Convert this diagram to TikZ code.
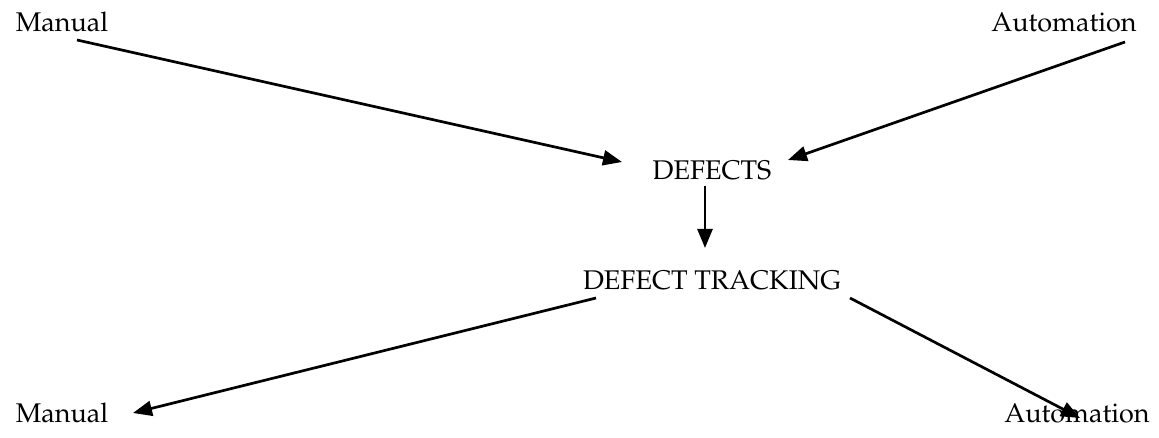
\documentclass[tikz,border=0pt]{standalone}
\usepackage[T1]{fontenc}
\usepackage{mathpazo}
\usetikzlibrary{arrows.meta}
\begin{document}
\begin{tikzpicture}[x=1pt,y=-1pt,
  lbl/.style={inner sep=0pt,font=\fontsize{27}{32}\selectfont},
  arr/.style={line width=2.7pt,-{Triangle[length=19pt,width=15pt]}}]
\useasboundingbox (0,0) rectangle (1159,438);
\node[lbl] (m1) at (62,22) {Manual};
\node[lbl] (a1) at (1064,22) {Automation};
\node[lbl] (d) at (712,170) {DEFECTS};
\node[lbl] (t) at (712,280) {DEFECT TRACKING};
\node[lbl] (m2) at (62,413) {Manual};
\node[lbl] (a2) at (1077,413) {Automation};
\coordinate (s1) at (77,40);
\coordinate (e1) at (622,162);
\coordinate (s2) at (1125,42);
\coordinate (e2) at (788,160);
\coordinate (s3) at (705,186);
\coordinate (e3) at (705,248);
\coordinate (s4) at (596,298);
\coordinate (e4) at (133,413);
\coordinate (s5) at (850,298);
\coordinate (e5) at (1080,418);
\draw[arr] (s1) -- (e1);
\draw[arr] (s2) -- (e2);
\draw[arr] (s3) -- (e3);
\draw[arr] (s4) -- (e4);
\draw[arr] (s5) -- (e5);
\end{tikzpicture}
\end{document}
